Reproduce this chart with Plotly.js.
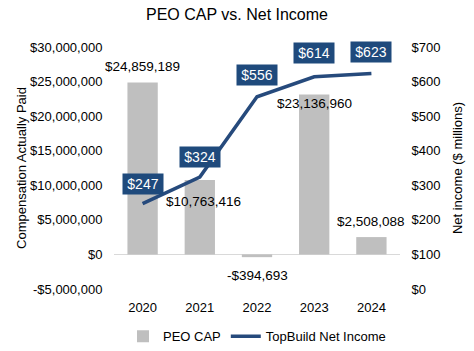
<!DOCTYPE html>
<html><head><meta charset="utf-8">
<script src="https://cdn.plot.ly/plotly-3.0.1.min.js"></script>
<style>html,body{margin:0;padding:0;background:#fff}#c{width:474px;height:351px}</style>
</head><body><div id="c"></div>
<script>
var years = ['2020','2021','2022','2023','2024'];
var peoCap = [24859189, 10763416, -394693, 23136960, 2508088];
var peoCapLabels = ['$24,859,189','$10,763,416','-$394,693','$23,136,960','$2,508,088'];
var netIncome = [247, 324, 556, 614, 623];
var netIncomeLabels = ['$247','$324','$556','$614','$623'];
var leftTicks = [-5000000,0,5000000,10000000,15000000,20000000,25000000,30000000];
var leftTickText = ['-$5,000,000','$0','$5,000,000','$10,000,000','$15,000,000','$20,000,000','$25,000,000','$30,000,000'];
var rightTicks = [0,100,200,300,400,500,600,700];
var rightTickText = ['$0','$100','$200','$300','$400','$500','$600','$700'];

var barShift = [16, -21, -18, -9, 16];
var barXShift = [0, 4, 0, 0, 0];
var lineShift = [20, 20, 22, 24, 22];

var F = 'Liberation Sans, Arial, sans-serif';
var blue = '#264A7C';
var annotations = [];
years.forEach(function(y,i){
  annotations.push({x:i, y:peoCap[i], xref:'x', yref:'y', text:peoCapLabels[i], showarrow:false,
    yshift:barShift[i], xshift:barXShift[i], font:{family:F,size:13.5,color:'#000'}});
});
years.forEach(function(y,i){
  annotations.push({x:i, y:netIncome[i], xref:'x', yref:'y2', text:netIncomeLabels[i], showarrow:false,
    yshift:lineShift[i], bgcolor:'#1F4A7C', borderpad:3, width:34, height:14,
    font:{family:F,size:14,color:'#fff'}});
});

var data = [
  {type:'bar', x:years, y:peoCap, name:'PEO CAP', marker:{color:'#BFBFBF'}, yaxis:'y', hoverinfo:'skip'},
  {type:'scatter', mode:'lines', x:years, y:netIncome, name:'TopBuild Net Income', line:{color:blue,width:3.5}, yaxis:'y2'}
];
var layout = {
  width:474, height:351,
  margin:{l:114, r:74, t:47, b:62, autoexpand:false},
  paper_bgcolor:'#fff', plot_bgcolor:'#fff',
  font:{family:F, size:13, color:'#000'},
  title:{text:'PEO CAP vs. Net Income', font:{family:F,size:16,color:'#000'}, x:0.5, xanchor:'center', y:0.96, yanchor:'middle'},
  bargap:0.47,
  showlegend:true,
  legend:{orientation:'h', x:0.5, xanchor:'center', y:-0.195, yanchor:'middle', font:{family:F,size:13}, itemwidth:30, traceorder:'normal'},
  xaxis:{type:'category', range:[-0.5,4.5], autorange:false, automargin:false, showgrid:false, zeroline:false, showline:false, ticks:'outside', ticklen:6, tickcolor:'rgba(0,0,0,0)', tickfont:{family:F,size:13}},
  yaxis:{range:[-5000000,30000000], autorange:false, automargin:false, tickvals:leftTicks, ticktext:leftTickText, showgrid:false, zeroline:true, zerolinecolor:'#D9D9D9', zerolinewidth:1,
    ticks:'outside', ticklen:8, tickcolor:'rgba(0,0,0,0)', tickfont:{family:F,size:13},
    title:{text:'Compensation Actually Paid', font:{family:F,size:13}, standoff:0}},
  yaxis2:{range:[0,700], autorange:false, automargin:false, tickvals:rightTicks, ticktext:rightTickText, overlaying:'y', side:'right', showgrid:false, zeroline:false,
    ticks:'outside', ticklen:8, tickcolor:'rgba(0,0,0,0)', tickfont:{family:F,size:13},
    title:{text:'Net income ($ millions)', font:{family:F,size:13}, standoff:13}},
  annotations:annotations
};
Plotly.newPlot('c', data, layout, {staticPlot:true, displayModeBar:false});
</script></body></html>
